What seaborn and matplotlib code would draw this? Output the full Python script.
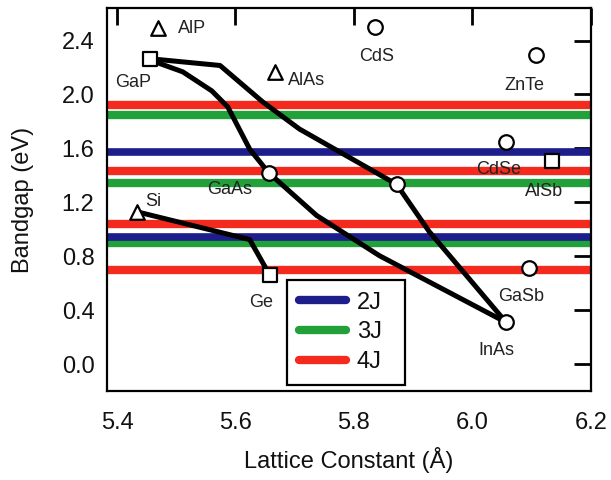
import matplotlib
matplotlib.use("Agg")
import matplotlib.pyplot as plt
import seaborn as sns
import pandas as pd
from matplotlib.lines import Line2D

# ---- data ----
band_2j = [1.57, 0.94]
band_3j = [1.85, 1.34, 0.90]
band_4j = [1.92, 1.43, 1.04, 0.70]

tri_names = ["AlP", "AlAs", "Si"]
tri_x = [5.469, 5.666, 5.434]
tri_y = [2.49, 2.17, 1.13]

sq_names = ["GaP", "Ge", "AlSb"]
sq_x = [5.456, 5.658, 6.135]
sq_y = [2.265, 0.66, 1.51]

circ_names = ["CdS", "ZnTe", "CdSe", "GaAs", "", "GaSb", "InAs"]
circ_x = [5.836, 6.108, 6.057, 5.656, 5.872, 6.096, 6.057]
circ_y = [2.50, 2.29, 1.65, 1.42, 1.334, 0.715, 0.31]

# curves
upper_x = [5.456, 5.574, 5.646, 5.708, 5.872, 5.927, 6.057]
upper_y = [2.265, 2.215, 1.945, 1.744, 1.334, 0.984, 0.31]
lower_x = [5.456, 5.511, 5.560, 5.587, 5.624, 5.656, 5.737, 5.843, 6.057]
lower_y = [2.255, 2.168, 2.027, 1.908, 1.595, 1.42, 1.103, 0.805, 0.31]
sige_x = [5.434, 5.624, 5.658]
sige_y = [1.13, 0.924, 0.66]

label_text = ["AlP", "GaP", "AlAs", "CdS", "ZnTe", "CdSe", "AlSb", "GaAs", "Si", "Ge", "GaSb", "InAs"]
label_x = [5.503, 5.427, 5.688, 5.838, 6.087, 6.045, 6.121, 5.590, 5.447, 5.644, 6.082, 6.040]
label_y = [2.49, 2.086, 2.10, 2.28, 2.07, 1.445, 1.28, 1.297, 1.207, 0.455, 0.50, 0.104]
label_ha = ["left", "center", "left", "center", "center", "center", "center", "center", "left", "center", "center", "center"]

xticks = [5.4, 5.6, 5.8, 6.0, 6.2]
yticks = [0.0, 0.4, 0.8, 1.2, 1.6, 2.0, 2.4]

col_2j = "#1d1d8c"
col_3j = "#22a03a"
col_4j = "#f52a1e"

sns.set_style("white")
plt.rcParams["font.family"] = ["Liberation Sans", "DejaVu Sans"]
plt.rcParams["text.color"] = "#111111"
plt.rcParams["axes.labelcolor"] = "#111111"

fig = plt.figure(figsize=(6.11, 4.80), dpi=100)
ax = fig.add_axes([0.175, 0.185, 0.792, 0.798])

for y in band_4j:
    ax.axhline(y, color=col_4j, lw=6.0, zorder=1)
for y in band_3j:
    ax.axhline(y, color=col_3j, lw=6.0, zorder=1)
for y in band_2j:
    ax.axhline(y, color=col_2j, lw=5.5, zorder=1.1)

curve_df = pd.concat([
    pd.DataFrame({"x": upper_x, "y": upper_y, "c": "upper"}),
    pd.DataFrame({"x": lower_x, "y": lower_y, "c": "lower"}),
    pd.DataFrame({"x": sige_x, "y": sige_y, "c": "sige"}),
])
sns.lineplot(data=curve_df, x="x", y="y", units="c", estimator=None, sort=False,
             color="black", lw=3.6, ax=ax, zorder=3, legend=False)

mk = dict(s=110, facecolor="white", edgecolor="black", linewidth=1.6, zorder=4, legend=False)
sns.scatterplot(x=tri_x, y=tri_y, marker="^", ax=ax, **mk)
sns.scatterplot(x=sq_x, y=sq_y, marker="s", ax=ax, **mk)
sns.scatterplot(x=circ_x, y=circ_y, marker="o", ax=ax, **mk)

for t, x, y, ha in zip(label_text, label_x, label_y, label_ha):
    ax.text(x, y, t, ha=ha, va="center", fontsize=13, color="#222222", zorder=5)

ax.set_xlim(5.383, 6.2)
ax.set_ylim(-0.2, 2.64)
ax.set_xticks(xticks)
ax.set_yticks(yticks)
ax.set_xticklabels([f"{v:.1f}" for v in xticks])
ax.set_yticklabels([f"{v:.1f}" for v in yticks])
ax.tick_params(axis="both", direction="in", length=12, width=2, top=True, right=True,
               labelsize=17, colors="black", labelcolor="#111111")
ax.tick_params(axis="x", pad=15)
ax.tick_params(axis="y", pad=9)
for s in ax.spines.values():
    s.set_linewidth(1.6)
    s.set_color("black")

ax.set_xlabel("Lattice Constant (Å)", fontsize=17, labelpad=9)
ax.set_ylabel("Bandgap (eV)", fontsize=17, labelpad=20)

handles = [Line2D([], [], color=col_2j, lw=6), Line2D([], [], color=col_3j, lw=6),
           Line2D([], [], color=col_4j, lw=6)]
leg = ax.legend(handles, ["2J", "3J", "4J"], loc="lower left",
                bbox_to_anchor=(0.372, 0.016, 0.244, 0.274), mode="expand",
                borderaxespad=0, fontsize=17, handlelength=2.0, frameon=True, fancybox=False,
                edgecolor="black", framealpha=1, labelspacing=0.33, borderpad=0.5,
                handletextpad=0.45)
leg.get_frame().set_linewidth(1.6)
leg.set_zorder(6)

fig.savefig("out.png", dpi=100)
